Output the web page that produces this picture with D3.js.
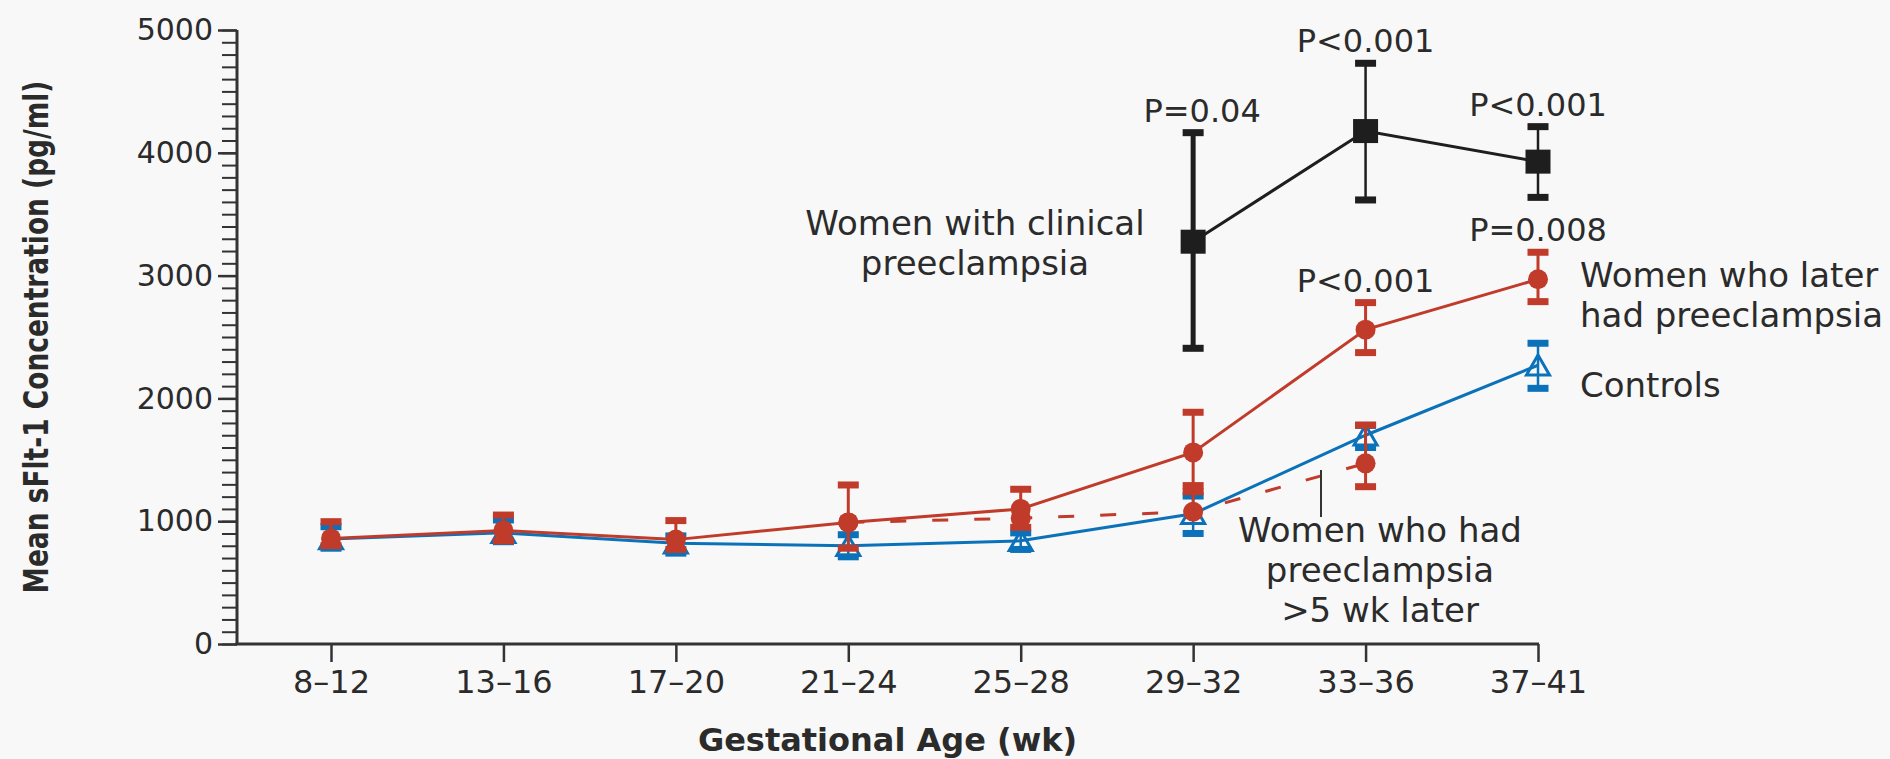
<!DOCTYPE html>
<html lang="en">
<head>
<meta charset="utf-8">
<title>Mean sFlt-1 Concentration by Gestational Age</title>
<script src="https://cdnjs.cloudflare.com/ajax/libs/d3/7.8.5/d3.min.js"></script>
<style>
    html, body { margin: 0; padding: 0; background: #f8f8f8; }
    svg { display: block; }
    text { font-family: "DejaVu Sans", sans-serif; fill: #2b2b2b; }
</style>
</head>
<body>
<svg id="chart"></svg>
<script>
    // categories
    const weeks = ["8–12", "13–16", "17–20", "21–24", "25–28", "29–32", "33–36", "37–41"];
    const yTicks = [0, 1000, 2000, 3000, 4000, 5000];

    // controls (blue triangles)
    const controlMean = [855, 905, 820, 800, 840, 1060, 1700, 2270];
    const controlLow = [780, 833, 740, 710, 770, 900, 1600, 2082];
    const controlHigh = [955, 1010, 880, 890, 905, 1205, 1780, 2449];

    // women who later had preeclampsia (red circles, solid line)
    const laterMean = [860, 925, 850, 990, 1100, 1560, 2560, 2970];
    const laterLow = [800, 840, 770, 780, 950, 1290, 2373, 2788];
    const laterHigh = [996, 1050, 1005, 1295, 1260, 1887, 2780, 3190];
    const laterP = [null, null, null, null, null, null, "P<0.001", "P=0.008"];

    // women who had preeclampsia >5 wk later (red, dashed line)
    const earlyWeeks = ["21–24", "25–28", "29–32", "33–36"];
    const earlyMean = [990, 1025, 1077, 1471];
    const earlyLow = [990, 1025, 1077, 1281];
    const earlyHigh = [990, 1025, 1240, 1783];

    // women with clinical preeclampsia (black squares)
    const clinicalWeeks = ["29–32", "33–36", "37–41"];
    const clinicalMean = [3276, 4177, 3928];
    const clinicalLow = [2408, 3616, 3637];
    const clinicalHigh = [4164, 4729, 4213];
    const clinicalP = ["P=0.04", "P<0.001", "P<0.001"];

    const width = 1890;
    const height = 759;
    const red = '#c13b2b';
    const blue = '#0b72ba';
    const black = '#1e1e1e';
    const axisColor = '#333';
    const yAxisX = 237;

    const svg = d3.select('#chart')
        .attr('width', width)
        .attr('height', height);

    const x = d3.scalePoint().domain(weeks).range([331, 1538]);
    const y = d3.scaleLinear().domain([0, 5000]).range([644, 30]);

    // y axis: minor ticks every 100, labelled ticks every 1000
    svg.append('g')
        .attr('transform', `translate(${yAxisX},0)`)
        .call(d3.axisLeft(y).tickValues(d3.range(0, 5001, 100)).tickSize(15).tickFormat(''))
        .call(g => g.select('.domain').remove())
        .call(g => g.selectAll('line').attr('stroke', axisColor).attr('stroke-width', 2));

    svg.append('g')
        .attr('transform', `translate(${yAxisX},0)`)
        .call(d3.axisLeft(y).tickValues(yTicks).tickSize(19).tickPadding(5).tickFormat(d3.format('d')))
        .call(g => g.select('.domain').remove())
        .call(g => g.selectAll('line').attr('stroke', axisColor).attr('stroke-width', 2.5))
        .call(g => g.selectAll('text')
            .attr('font-size', 30)
            .attr('font-family', '"DejaVu Sans", sans-serif')
            .attr('fill', '#2b2b2b'));

    // x axis
    svg.append('g')
        .attr('transform', `translate(0,${y(0)})`)
        .call(d3.axisBottom(x).tickSize(18).tickSizeOuter(0).tickPadding(8))
        .call(g => g.select('.domain').remove())
        .call(g => g.selectAll('line').attr('stroke', axisColor).attr('stroke-width', 2.5))
        .call(g => g.selectAll('text')
            .attr('font-size', 32)
            .attr('font-family', '"DejaVu Sans", sans-serif')
            .attr('fill', '#2b2b2b'));

    svg.append('line')
        .attr('x1', yAxisX).attr('x2', yAxisX)
        .attr('y1', y(5000)).attr('y2', y(0))
        .attr('stroke', axisColor).attr('stroke-width', 3);

    svg.append('line')
        .attr('x1', yAxisX - 1.5).attr('x2', x(weeks[weeks.length - 1]) + 1)
        .attr('y1', y(0)).attr('y2', y(0))
        .attr('stroke', axisColor).attr('stroke-width', 3);

    // axis titles (y title squeezed to the condensed width of the original)
    const yTitle = svg.append('text')
        .attr('text-anchor', 'middle')
        .attr('font-size', 34)
        .attr('font-weight', 'bold')
        .text('Mean sFlt-1 Concentration (pg/ml)');
    const squeeze = 513 / yTitle.node().getComputedTextLength();
    yTitle.attr('transform', `translate(48,${(y(0) + y(5000)) / 2}) rotate(-90) scale(${squeeze},1)`);

    svg.append('text')
        .attr('x', (yAxisX + x(weeks[weeks.length - 1])) / 2)
        .attr('y', 751)
        .attr('text-anchor', 'middle')
        .attr('font-size', 32)
        .attr('font-weight', 'bold')
        .text('Gestational Age (wk)');

    function drawLine(cats, values, color, dash) {
        const line = d3.line()
            .x((d, i) => x(cats[i]))
            .y(d => y(d));
        svg.append('path')
            .datum(values)
            .attr('d', line)
            .attr('fill', 'none')
            .attr('stroke', color)
            .attr('stroke-width', 3)
            .attr('stroke-dasharray', dash || null);
    }

    function drawErrorBars(cats, mean, low, high, color, barWidth) {
        cats.forEach((c, i) => {
            if (low[i] === high[i]) return;
            svg.append('line')
                .attr('x1', x(c)).attr('x2', x(c))
                .attr('y1', y(low[i])).attr('y2', y(high[i]))
                .attr('stroke', color)
                .attr('stroke-width', barWidth);
            [low[i], high[i]].forEach(v => {
                if (v === mean[i]) return;
                svg.append('rect')
                    .attr('x', x(c) - 10.5)
                    .attr('y', y(v) - 3.5)
                    .attr('width', 21)
                    .attr('height', 7)
                    .attr('fill', color);
            });
        });
    }

    // controls
    drawLine(weeks, controlMean, blue);
    drawErrorBars(weeks, controlMean, controlLow, controlHigh, blue, 2.5);
    svg.append('g')
        .selectAll('path')
        .data(controlMean)
        .enter().append('path')
        .attr('transform', (d, i) => `translate(${x(weeks[i])},${y(d) + 3})`)
        .attr('d', d3.symbol().type(d3.symbolTriangle).size(230))
        .attr('fill', 'none')
        .attr('stroke', blue)
        .attr('stroke-width', 3);

    // preeclampsia >5 wk later
    drawLine(earlyWeeks, earlyMean, red, '16,26');
    drawErrorBars(earlyWeeks, earlyMean, earlyLow, earlyHigh, red, 3);
    svg.append('g')
        .selectAll('circle')
        .data(earlyMean)
        .enter().append('circle')
        .attr('cx', (d, i) => x(earlyWeeks[i]))
        .attr('cy', d => y(d))
        .attr('r', 10)
        .attr('fill', red);

    // later had preeclampsia
    drawLine(weeks, laterMean, red);
    drawErrorBars(weeks, laterMean, laterLow, laterHigh, red, 3);
    svg.append('g')
        .selectAll('circle')
        .data(laterMean)
        .enter().append('circle')
        .attr('cx', (d, i) => x(weeks[i]))
        .attr('cy', d => y(d))
        .attr('r', 10)
        .attr('fill', red);

    // clinical preeclampsia
    drawLine(clinicalWeeks, clinicalMean, black);
    clinicalWeeks.forEach((c, i) => {
        drawErrorBars([c], [clinicalMean[i]], [clinicalLow[i]], [clinicalHigh[i]], black, i === 0 ? 5 : 2.5);
    });
    svg.append('g')
        .selectAll('rect')
        .data(clinicalMean)
        .enter().append('rect')
        .attr('x', (d, i) => x(clinicalWeeks[i]) - 12.5)
        .attr('y', d => y(d) - 12)
        .attr('width', 25)
        .attr('height', 24)
        .attr('fill', black);

    // P values
    clinicalP.forEach((p, i) => {
        svg.append('text')
            .attr('x', x(clinicalWeeks[i]) + (i === 0 ? 9 : 0))
            .attr('y', y(clinicalHigh[i]) - 11)
            .attr('text-anchor', 'middle')
            .attr('font-size', 32)
            .text(p);
    });
    laterP.forEach((p, i) => {
        if (!p) return;
        svg.append('text')
            .attr('x', x(weeks[i]))
            .attr('y', y(laterHigh[i]) - 11)
            .attr('text-anchor', 'middle')
            .attr('font-size', 32)
            .text(p);
    });

    // series labels
    function label(lines, lx, ly, anchor) {
        const t = svg.append('text')
            .attr('text-anchor', anchor)
            .attr('font-size', 34);
        lines.forEach((s, i) => {
            t.append('tspan').attr('x', lx).attr('y', ly + i * 40).text(s);
        });
    }

    label(['Women with clinical', 'preeclampsia'], 975, 235, 'middle');
    label(['Women who later', 'had preeclampsia'], 1580, 287, 'start');
    label(['Controls'], 1580, 397, 'start');
    label(['Women who had', 'preeclampsia', '>5 wk later'], 1380, 542, 'middle');

    svg.append('line')
        .attr('x1', 1321).attr('x2', 1321)
        .attr('y1', 470).attr('y2', 517)
        .attr('stroke', axisColor)
        .attr('stroke-width', 2);
</script>
</body>
</html>
